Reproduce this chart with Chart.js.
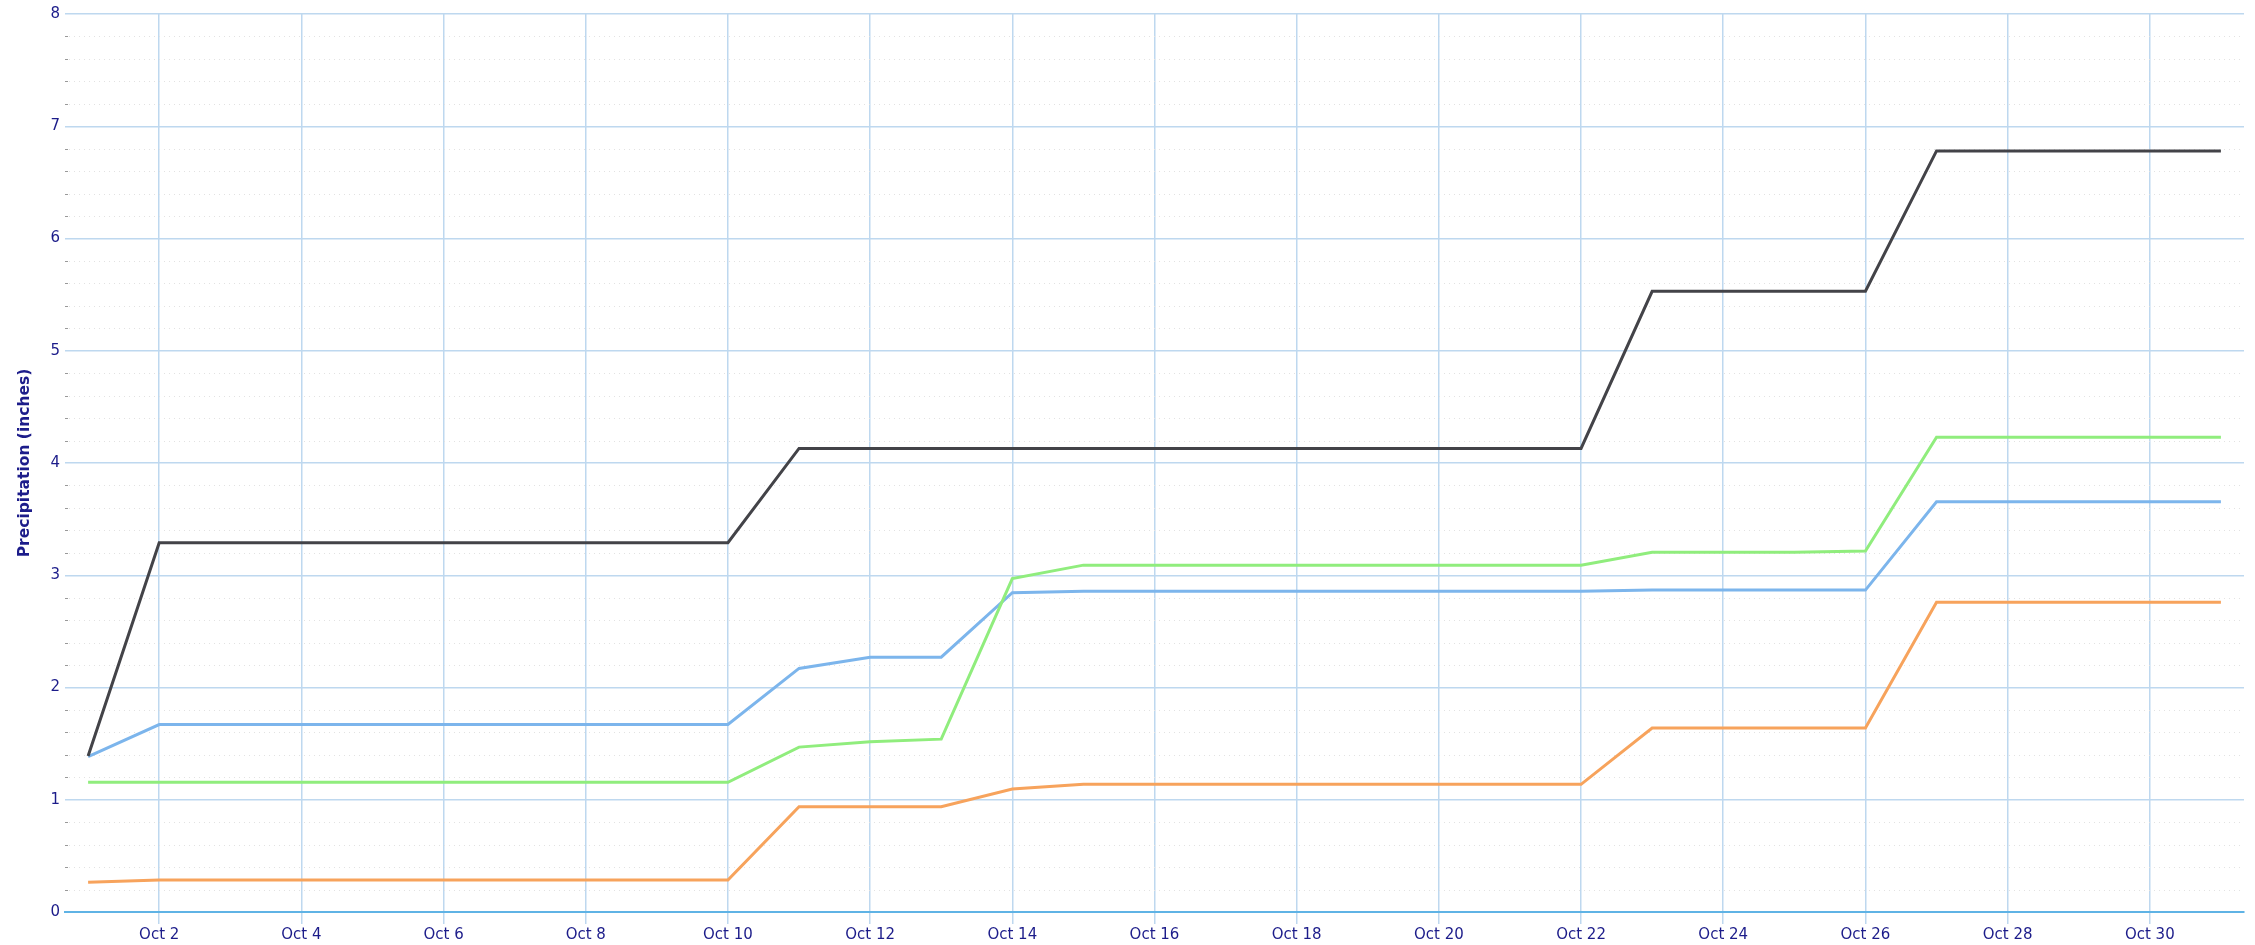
<!DOCTYPE html>
<html>
<head>
<meta charset="utf-8">
<script src="https://cdn.jsdelivr.net/npm/chart.js@4/dist/chart.umd.min.js"></script>
<style>
  html, body { margin: 0; padding: 0; background: #ffffff; }
  #wrap { width: 2255px; height: 945px; }
</style>
</head>
<body>
<div id="wrap"><canvas id="c" width="2255" height="945"></canvas></div>
<script>
// ---- data ----
const days = [1,2,3,4,5,6,7,8,9,10,11,12,13,14,15,16,17,18,19,20,21,22,23,24,25,26,27,28,29,30,31];

const blackSeries  = [1.39, 3.29,3.29,3.29,3.29,3.29,3.29,3.29,3.29,3.29,
                      4.13,4.13,4.13,4.13,4.13,4.13,4.13,4.13,4.13,4.13,4.13,4.13,
                      5.53,5.53,5.53,5.53, 6.78,6.78,6.78,6.78,6.78];
const blueSeries   = [1.385, 1.67,1.67,1.67,1.67,1.67,1.67,1.67,1.67,1.67,
                      2.17, 2.27, 2.27, 2.845,
                      2.857,2.857,2.857,2.857,2.857,2.857,2.857,2.857,
                      2.868,2.868,2.868,2.868, 3.655,3.655,3.655,3.655,3.655];
const greenSeries  = [1.155,1.155,1.155,1.155,1.155,1.155,1.155,1.155,1.155,1.155,
                      1.469, 1.516, 1.540, 2.97,
                      3.09,3.09,3.09,3.09,3.09,3.09,3.09,3.09,
                      3.205,3.205,3.205, 3.215, 4.23,4.23,4.23,4.23,4.23];
const orangeSeries = [0.266, 0.284,0.284,0.284,0.284,0.284,0.284,0.284,0.284,0.284,
                      0.937,0.937,0.937, 1.096,
                      1.137,1.137,1.137,1.137,1.137,1.137,1.137,1.137,
                      1.639,1.639,1.639,1.639, 2.76,2.76,2.76,2.76,2.76];

const xTickValues = [2,4,6,8,10,12,14,16,18,20,22,24,26,28,30];
const xTickLabels = ['Oct 2','Oct 4','Oct 6','Oct 8','Oct 10','Oct 12','Oct 14','Oct 16',
                     'Oct 18','Oct 20','Oct 22','Oct 24','Oct 26','Oct 28','Oct 30'];
const yTickValues = [0,1,2,3,4,5,6,7,8];
const yTickLabels = ['0','1','2','3','4','5','6','7','8'];
const yMinorStep = 0.2;
const yTitle = 'Precipitation (inches)';

// ---- chart ----
const labelColor = '#1c1c8a';
const gridColor = '#bed8ef';
const pts = arr => days.map((d, i) => ({x: d, y: arr[i]}));

const minorGrid = {
  id: 'minorGrid',
  beforeDatasetsDraw(chart) {
    const {ctx, chartArea: a, scales: {y}} = chart;
    ctx.save();
    const n = Math.round((y.max - y.min) / yMinorStep);
    for (let k = 1; k < n; k++) {
      const v = y.min + k * yMinorStep;
      if (Math.abs(v - Math.round(v)) < 1e-6) continue;
      const py = Math.round(y.getPixelForValue(v)) + 0.5;
      ctx.setLineDash([1, 4]);
      ctx.strokeStyle = '#e2e2e2';
      ctx.lineWidth = 1;
      ctx.beginPath();
      ctx.moveTo(a.left + 4, py);
      ctx.lineTo(a.right, py);
      ctx.stroke();
      ctx.setLineDash([]);
      ctx.strokeStyle = '#999999';
      ctx.beginPath();
      ctx.moveTo(a.left, py);
      ctx.lineTo(a.left + 3, py);
      ctx.stroke();
    }
    ctx.restore();
  }
};

const mk = (data, color) => ({
  data: pts(data),
  borderColor: color,
  backgroundColor: color,
  borderWidth: 3,
  pointRadius: 0,
  pointHoverRadius: 0,
  tension: 0,
  fill: false
});

new Chart(document.getElementById('c'), {
  type: 'line',
  data: {
    datasets: [
      mk(orangeSeries, '#f7a35c'),
      mk(greenSeries, '#90ed7d'),
      mk(blackSeries, '#434348'),
      mk(blueSeries, '#7cb5ec')
    ]
  },
  options: {
    responsive: false,
    animation: false,
    events: [],
    layout: { padding: { top: 14, right: 11, bottom: 0, left: 0 } },
    plugins: { legend: { display: false }, tooltip: { enabled: false }, title: { display: false } },
    scales: {
      x: {
        type: 'linear',
        min: 0.675,
        max: 31.325,
        afterBuildTicks: s => { s.ticks = xTickValues.map(v => ({value: v})); },
        afterFit: s => { s.height = 33; },
        ticks: {
          color: labelColor,
          font: { family: 'DejaVu Sans', size: 15 },
          padding: 2,
          maxRotation: 0,
          autoSkip: false,
          callback: v => xTickLabels[xTickValues.indexOf(v)]
        },
        grid: { color: gridColor, lineWidth: 1.5, drawTicks: true, tickLength: 12, tickColor: gridColor },
        border: { display: true, color: '#5fb3e5', width: 2 }
      },
      y: {
        type: 'linear',
        min: 0,
        max: 8,
        afterBuildTicks: s => { s.ticks = yTickValues.map(v => ({value: v})); },
        afterFit: s => { s.width = 65; },
        ticks: {
          color: labelColor,
          font: { family: 'DejaVu Sans', size: 15 },
          padding: 5,
          callback: v => yTickLabels[yTickValues.indexOf(v)]
        },
        grid: { color: gridColor, lineWidth: 1.5, drawTicks: false },
        border: { display: false },
        title: {
          display: true,
          text: yTitle,
          color: labelColor,
          font: { family: 'DejaVu Sans', size: 15.5, weight: 'bold' },
          padding: { top: 16, bottom: 0 }
        }
      }
    }
  },
  plugins: [minorGrid]
});
</script>
</body>
</html>
